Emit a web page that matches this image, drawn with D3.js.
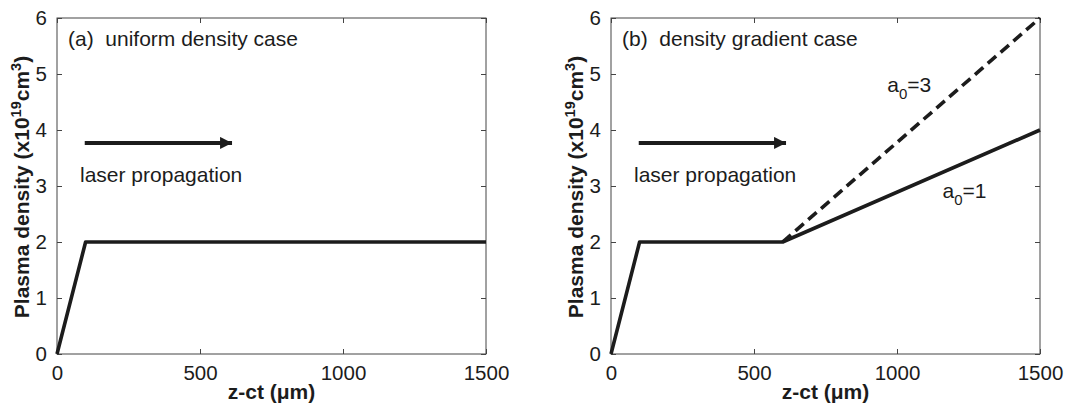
<!DOCTYPE html>
<html>
<head>
<meta charset="utf-8">
<script src="https://cdn.jsdelivr.net/npm/d3@7"></script>
<style>
  body { margin: 0; background: #fff; }
  svg { display: block; font-family: "Liberation Sans", Arial, sans-serif; }
</style>
</head>
<body>
<svg></svg>
<script>
// chart values
var xTicks = [0, 500, 1000, 1500];
var yTicks = [0, 1, 2, 3, 4, 5, 6];

// (a) uniform density
var uniformZ = [0, 100, 1500];
var uniformN = [0, 2, 2];

// (b) density gradient
var gradZ = [0, 100, 600, 1500];
var gradA1 = [0, 2, 2, 4];   // a0=1, solid
var a3Z = [600, 1500];
var a3N = [2, 6];            // a0=3, dashed

var panelTitles = ["(a)  uniform density case", "(b)  density gradient case"];

var width = 1068, height = 405;
var svg = d3.select("svg").attr("width", width).attr("height", height);

var ink = "#1c1c1c";

svg.append("defs").append("marker")
    .attr("id", "head")
    .attr("viewBox", "0 0 10 10")
    .attr("refX", 10).attr("refY", 5)
    .attr("markerWidth", 3.6).attr("markerHeight", 3)
    .attr("markerUnits", "strokeWidth")
    .attr("orient", "auto")
  .append("path")
    .attr("d", "M0,0 L10,5 L0,10 Z")
    .attr("fill", ink);

function drawPanel(left, idx) {
  var x = d3.scaleLinear().domain([0, 1500]).range([left, left + 429]);
  var y = d3.scaleLinear().domain([0, 6]).range([354, 18]);
  var g = svg.append("g");

  // box
  g.append("rect")
    .attr("x", x(0)).attr("y", y(6))
    .attr("width", x(1500) - x(0)).attr("height", y(0) - y(6))
    .attr("fill", "none").attr("stroke", "#444").attr("stroke-width", 1);

  // axes with inward ticks
  var fs = "20.5px";
  var bottom = g.append("g").attr("transform", `translate(0,${y(0)})`)
    .call(d3.axisBottom(x).tickValues(xTicks).tickFormat(d3.format("d"))
      .tickSizeInner(-5).tickSizeOuter(0).tickPadding(11));
  var top = g.append("g").attr("transform", `translate(0,${y(6)})`)
    .call(d3.axisTop(x).tickValues(xTicks).tickSizeInner(-5).tickSizeOuter(0).tickFormat(""));
  var leftAx = g.append("g").attr("transform", `translate(${x(0)},0)`)
    .call(d3.axisLeft(y).tickValues(yTicks).tickFormat(d3.format("d"))
      .tickSizeInner(-5).tickSizeOuter(0).tickPadding(10));
  var rightAx = g.append("g").attr("transform", `translate(${x(1500)},0)`)
    .call(d3.axisRight(y).tickValues(yTicks).tickSizeInner(-5).tickSizeOuter(0).tickFormat(""));
  [bottom, top, leftAx, rightAx].forEach(function(a) {
    a.select(".domain").remove();
    a.selectAll("line").attr("stroke", "#444");
    a.selectAll("text").attr("fill", ink).style("font-size", fs)
      .style("font-family", '"Liberation Sans", Arial, sans-serif');
  });

  // axis labels
  var xl = g.append("text")
    .attr("x", (x(0) + x(1500)) / 2).attr("y", 399)
    .attr("text-anchor", "middle")
    .attr("fill", ink).style("font-size", "21px").style("font-weight", "bold");
  xl.append("tspan").text("z-ct (");
  xl.append("tspan").text("\u03bc");
  xl.append("tspan").text("m)");

  var yl = g.append("text")
    .attr("transform", `translate(${x(0) - 28},${(y(0) + y(6)) / 2 + 1}) rotate(-90)`)
    .attr("text-anchor", "middle")
    .attr("fill", ink).style("font-size", "21px").style("font-weight", "bold");
  yl.append("tspan").text("Plasma density (x10");
  yl.append("tspan").attr("dy", -8).style("font-size", "14.5px").text("19");
  yl.append("tspan").attr("dy", 8).text("cm");
  yl.append("tspan").attr("dy", -8).style("font-size", "14.5px").text("3");
  yl.append("tspan").attr("dy", 8).text(")");

  // panel title
  g.append("text")
    .attr("x", x(0) + 11).attr("y", 46)
    .attr("fill", ink).style("font-size", "21px")
    .attr("xml:space", "preserve")
    .text(panelTitles[idx]);

  // propagation arrow + label
  g.append("line")
    .attr("x1", x(97)).attr("x2", x(612))
    .attr("y1", y(3.77)).attr("y2", y(3.77))
    .attr("stroke", ink).attr("stroke-width", 4)
    .attr("marker-end", "url(#head)");
  g.append("text")
    .attr("x", x(0) + 23).attr("y", 182)
    .attr("fill", ink).style("font-size", "21px")
    .text("laser propagation");

  return { g: g, x: x, y: y };
}

var pa = drawPanel(57, 0);
var pb = drawPanel(611, 1);

function curve(p, zs, ns, dash) {
  var line = d3.line().x(d => p.x(d[0])).y(d => p.y(d[1]));
  p.g.append("path")
    .attr("d", line(d3.zip(zs, ns)))
    .attr("fill", "none")
    .attr("stroke", ink)
    .attr("stroke-width", 3.6)
    .attr("stroke-linejoin", "round")
    .attr("stroke-dasharray", dash || null);
}

curve(pa, uniformZ, uniformN);
curve(pb, gradZ, gradA1);
curve(pb, a3Z, a3N, "11,6");

// a0 labels
function a0Label(p, z, n, val) {
  var t = p.g.append("text")
    .attr("x", p.x(z)).attr("y", p.y(n))
    .attr("fill", ink).style("font-size", "21px");
  t.append("tspan").text("a");
  t.append("tspan").attr("dy", 7).style("font-size", "15px").text("0");
  t.append("tspan").attr("dy", -7).text("=" + val);
}
a0Label(pb, 966, 4.68, 3);
a0Label(pb, 1159, 2.79, 1);
</script>
</body>
</html>
